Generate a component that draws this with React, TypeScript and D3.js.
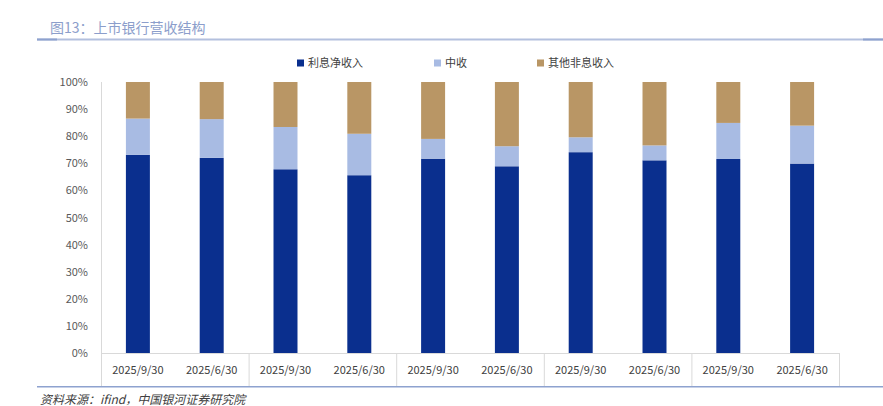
import React from "react";
import * as d3 from "d3";

const categories = ["2025/9/30", "2025/6/30", "2025/9/30", "2025/6/30", "2025/9/30", "2025/6/30", "2025/9/30", "2025/6/30", "2025/9/30", "2025/6/30"];
const netInterest = [73.1, 72.0, 67.8, 65.6, 71.7, 68.9, 74.1, 71.1, 71.6, 69.9];
const feeIncome = [13.4, 14.3, 15.6, 15.3, 7.3, 7.4, 5.5, 5.5, 13.3, 14.0];
const otherIncome = [13.5, 13.7, 16.6, 19.1, 21.0, 23.7, 20.4, 23.4, 15.1, 16.1];
const seriesNames = ["利息净收入", "中收", "其他非息收入"];
const yTicks = [0, 10, 20, 30, 40, 50, 60, 70, 80, 90, 100];
const title = "图13：上市银行营收结构";
const source = "资料来源：ifind，中国银河证券研究院";

const colors = ["#0a2f8e", "#a8bbe3", "#b99665"];
const FONT = "'Noto Sans CJK SC', 'Noto Sans', sans-serif";

export default function App() {
  const W = 883, H = 406;
  const left = 101, right = 839, top = 82, bottom = 353;
  const x = d3.scaleBand<number>().domain(d3.range(categories.length)).range([left, right]).paddingInner(0.675).paddingOuter(0.3375);
  const y = d3.scaleLinear().domain([0, 100]).range([bottom, top]);

  const data = categories.map((c, i) => ({ i, a: netInterest[i], b: feeIncome[i], c: otherIncome[i] }));
  const stack = d3.stack<any>().keys(["a", "b", "c"]);
  const layers = stack(data);

  const step = (right - left) / categories.length;
  const seps = d3.range(0, categories.length + 1, 2).map((k) => left + k * step);

  const legendX = [297, 434, 537];

  return (
    <svg width={W} height={H} style={{ position: "absolute", left: 0, top: 0, background: "#fff" }}>
      <text x={50} y={33} fontFamily={FONT} fontSize={14} fill="#8c9ecb">{title}</text>
      <line x1={37} x2={883} y1={39.5} y2={39.5} stroke="#b3c0de" strokeWidth={2} />
      <line x1={37} x2={57} y1={39.5} y2={39.5} stroke="#8ea2cf" strokeWidth={2} />
      <line x1={863} x2={883} y1={39.5} y2={39.5} stroke="#8ea2cf" strokeWidth={2} />

      {seriesNames.map((n, k) => (
        <g key={n}>
          <rect x={legendX[k]} y={59.5} width={7} height={7} fill={colors[k]} />
          <text x={legendX[k] + 11} y={67} fontFamily={FONT} fontSize={11} fill="#404040">{n}</text>
        </g>
      ))}

      {yTicks.map((t) => (
        <text key={t} x={88} y={y(t) + 4} textAnchor="end" fontFamily={FONT} fontSize={11} fill="#595959">{t}%</text>
      ))}

      <line x1={left + 0.5} x2={left + 0.5} y1={top} y2={386} stroke="#d9d9d9" />
      <line x1={left} x2={right} y1={bottom + 0.5} y2={bottom + 0.5} stroke="#d9d9d9" />
      {seps.map((s, k) => (
        <line key={k} x1={s + 0.5} x2={s + 0.5} y1={bottom} y2={386} stroke="#d9d9d9" />
      ))}

      {layers.map((layer, k) => (
        <g key={k} fill={colors[k]}>
          {layer.map((d, i) => (
            <rect key={i} x={x(i)} y={y(d[1])} width={x.bandwidth()} height={y(d[0]) - y(d[1])} />
          ))}
        </g>
      ))}

      {categories.map((c, i) => (
        <text key={i} x={(x(i) as number) + x.bandwidth() / 2} y={374} textAnchor="middle" fontFamily={FONT} fontSize={11} fill="#404040">{c}</text>
      ))}

      <line x1={37} x2={883} y1={386.7} y2={386.7} stroke="#8ea2cf" strokeWidth={1.5} />
      <text x={40} y={404} fontFamily={FONT} fontSize={12} fontStyle="italic" fill="#404040">{source}</text>
    </svg>
  );
}
